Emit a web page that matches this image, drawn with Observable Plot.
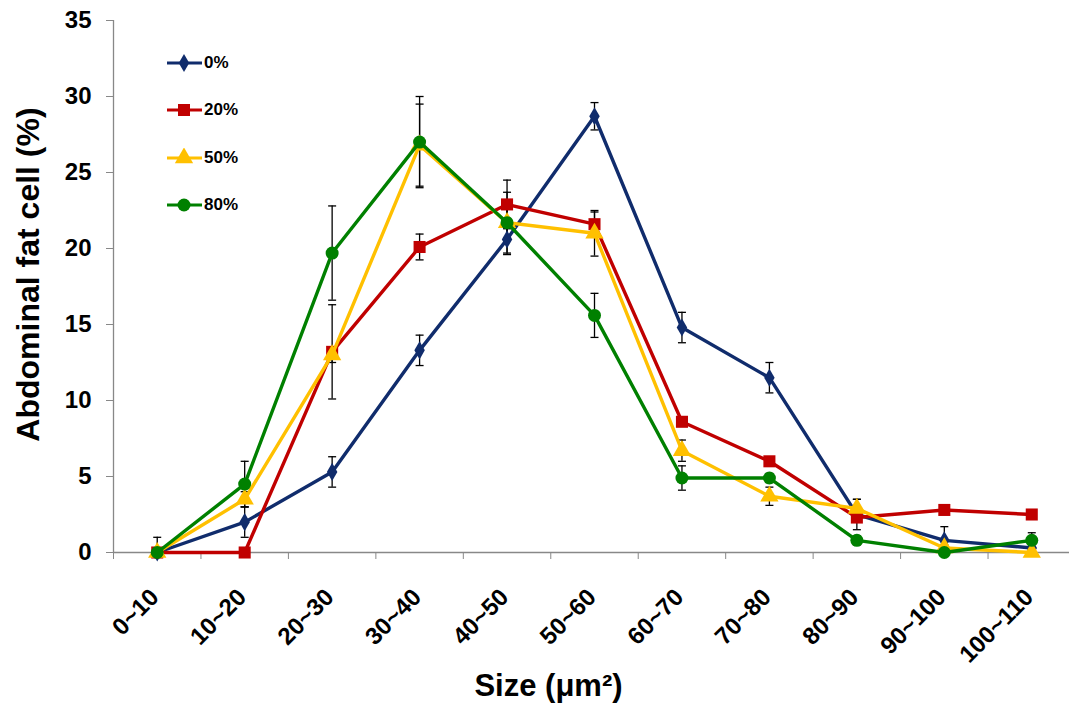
<!DOCTYPE html>
<html>
<head>
<meta charset="utf-8">
<script src="https://cdn.jsdelivr.net/npm/d3@7"></script>
<script src="https://cdn.jsdelivr.net/npm/@observablehq/plot@0.6"></script>
<style>
  html, body { margin: 0; padding: 0; background: #fff; }
  #wrap { position: relative; width: 1069px; height: 706px; font-family: "Liberation Sans", Arial, sans-serif; }
  #legend { position: absolute; left: 167px; top: 0; }
  .item { position: absolute; left: 0; display: flex; align-items: center; height: 20px; white-space: nowrap; }
  .item span { font-weight: bold; font-size: 17px; color: #000; margin-left: 1px; }
</style>
</head>
<body>
<div id="wrap"><div id="legend"></div></div>
<script>
const categories = ["0~10","10~20","20~30","30~40","40~50","50~60","60~70","70~80","80~90","90~100","100~110"];
const seriesNames = ["0%","20%","50%","80%"];
const seriesColors = ["#102c6c","#c00000","#ffc000","#008000"];
const seriesSymbols = ["diamond","square","triangle","circle"];
const seriesR = [5.5, 6.8, 6.8, 6.5];

const v0  = [0, 2.0, 5.3, 13.3, 20.6, 28.7, 14.8, 11.5, 2.5, 0.8, 0.3];
const v20 = [0, 0, 13.2, 20.1, 22.9, 21.6, 8.6, 6.0, 2.3, 2.8, 2.5];
const v50 = [0, 3.5, 13.0, 26.8, 21.7, 21.0, 6.7, 3.7, 2.9, 0.3, 0];
const v80 = [0, 4.5, 19.7, 27.0, 21.7, 15.6, 4.9, 4.9, 0.8, 0, 0.8];

const e0  = [1.0, 1.0, 1.0, 1.0, 1.0, 0.9, 1.0, 1.0, 1.0, 0.9, 0.3];
const e20 = [0, 0, 3.1, 0.85, 1.6, 0.8, 0.3, 0.3, 0.3, 0.3, 0.2];
const e50 = [0, 0.5, 0.5, 2.7, 1.0, 1.5, 0.7, 0.6, 0.6, 0.2, 0];
const e80 = [0, 1.5, 3.1, 3.0, 2.0, 1.45, 0.8, 0.3, 0.3, 0.1, 0.5];

const yTicks = [0, 5, 10, 15, 20, 25, 30, 35];
const yTitle = "Abdominal fat cell (%)";
const xTitle = "Size (μm²)";

const values = [v0, v20, v50, v80];
const errors = [e0, e20, e50, e80];

const rows = [];
seriesNames.forEach((s, k) => {
  categories.forEach((c, i) => {
    rows.push({series: s, k, cat: c, i, value: values[k][i], err: errors[k][i]});
  });
});
const errRows = rows.filter(d => d.err > 0);
const lowCapRows = errRows.filter(d => d.value - d.err >= 0);
const boundaries = d3.range(-0.5, categories.length, 1);

const cap = {draw(ctx, size) { const w = Math.sqrt(size / Math.PI); ctx.moveTo(-w, 0); ctx.lineTo(w, 0); }};

const font = "Liberation Sans, Arial, sans-serif";

const marks = [
  Plot.ruleY([0], {stroke: "#888", strokeWidth: 1.3}),
  Plot.ruleX([-0.5], {stroke: "#888", strokeWidth: 1.3}),
  Plot.axisY({ticks: yTicks, tickSize: 7, stroke: "#888", tickFormat: () => "", label: null}),
  Plot.axisY({ticks: yTicks, tickSize: 0, tickPadding: 22, fontSize: 24, fontWeight: "bold", fill: "black", label: null}),
  Plot.axisX({ticks: boundaries, tickSize: 7, stroke: "#888", tickFormat: () => "", label: null}),
  Plot.text(categories, {x: (d, i) => i, frameAnchor: "bottom", text: d => d, rotate: -45, textAnchor: "end", lineAnchor: "bottom", dy: 46, dx: 3, fontSize: 24, fontWeight: "bold", fill: "black"}),
  Plot.text([yTitle], {frameAnchor: "left", text: d => d, rotate: -90, textAnchor: "middle", lineAnchor: "middle", dx: -85, dy: -12, fontSize: 32, fontWeight: "bold", fill: "black"}),
  Plot.text([xTitle], {frameAnchor: "bottom", text: d => d, textAnchor: "middle", lineAnchor: "middle", dx: -43, dy: 134, fontSize: 31, fontWeight: "bold", fill: "black"}),
  Plot.ruleX(errRows, {x: "i", y1: d => Math.max(0, d.value - d.err), y2: d => d.value + d.err, stroke: "black", strokeWidth: 1.3}),
  Plot.dot(errRows, {x: "i", y: d => d.value + d.err, symbol: cap, r: 4, stroke: "black", strokeWidth: 1.3, fill: "none"}),
  Plot.dot(lowCapRows, {x: "i", y: d => d.value - d.err, symbol: cap, r: 4, stroke: "black", strokeWidth: 1.3, fill: "none"})
];
seriesNames.forEach((s, k) => {
  const data = rows.filter(d => d.k === k);
  marks.push(Plot.line(data, {x: "i", y: "value", stroke: seriesColors[k], strokeWidth: 3.4}));
  marks.push(Plot.dot(data, {x: "i", y: "value", symbol: seriesSymbols[k], r: seriesR[k], fill: seriesColors[k], stroke: "none"}));
});

const chart = Plot.plot({
  width: 1069,
  height: 706,
  marginLeft: 113,
  marginRight: 0,
  marginTop: 20,
  marginBottom: 154,
  style: {fontFamily: font, background: "white", overflow: "visible"},
  x: {domain: [-0.5, categories.length - 0.5], range: [113, 1075], axis: null},
  y: {domain: [0, 35], axis: null},
  marks
});
document.getElementById("wrap").prepend(chart);

// legend
const legend = document.getElementById("legend");
const legendY = [63, 110, 158, 205];
seriesNames.forEach((s, k) => {
  const item = document.createElement("div");
  item.className = "item";
  item.style.top = (legendY[k] - 10) + "px";
  const svg = d3.create("svg").attr("width", 36).attr("height", 20);
  svg.append("line").attr("x1", 0).attr("x2", 35).attr("y1", 10).attr("y2", 10)
    .attr("stroke", seriesColors[k]).attr("stroke-width", 3.2);
  const symMap = {diamond: d3.symbolDiamond, square: d3.symbolSquare, triangle: d3.symbolTriangle, circle: d3.symbolCircle};
  svg.append("path").attr("transform", "translate(17,10)")
    .attr("d", d3.symbol(symMap[seriesSymbols[k]], Math.PI * seriesR[k] * seriesR[k])())
    .attr("fill", seriesColors[k]);
  item.appendChild(svg.node());
  const label = document.createElement("span");
  label.textContent = s;
  item.appendChild(label);
  legend.appendChild(item);
});
</script>
</body>
</html>
